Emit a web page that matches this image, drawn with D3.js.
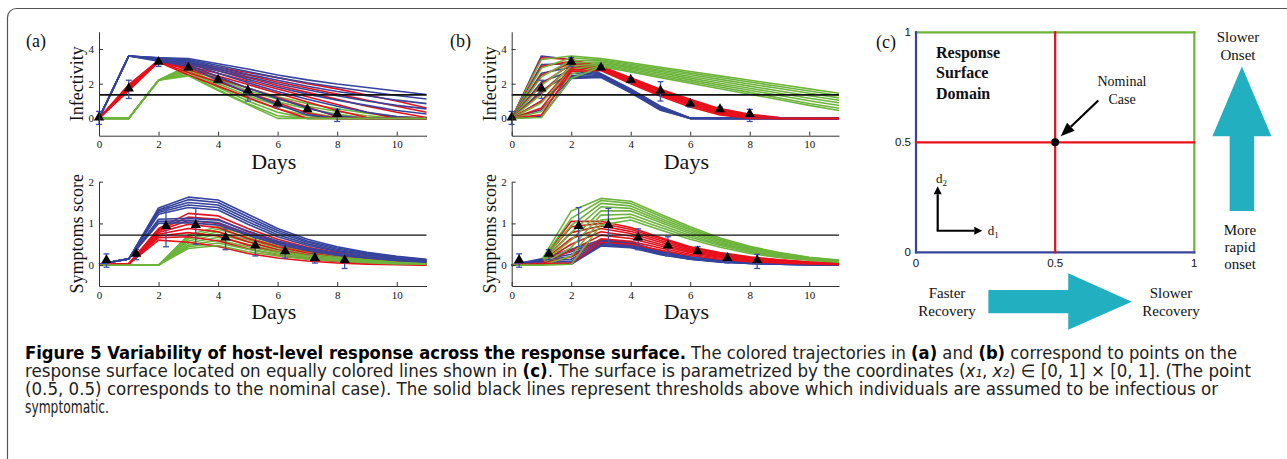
<!DOCTYPE html>
<html>
<head>
<meta charset="utf-8">
<script src="https://cdn.jsdelivr.net/npm/d3@7/dist/d3.min.js"></script>
<style>
  body { margin: 0; background: #fff; }
  svg text { font-family: "Liberation Serif", "Times New Roman", serif; fill: #111; }
  .cap text { font-family: "Liberation Sans Narrow", "DejaVu Sans Condensed", "Open Sans", sans-serif; }
</style>
</head>
<body>
<svg id="fig" width="1287" height="459"></svg>
<script>
// day grid shared by all simulated trajectories
const days = [0, 1, 2, 3, 4, 5, 6, 7, 8, 9, 10, 11];

// ---- (a) infectivity: recovery varies, onset fixed per colour
const aInfBlue = [
  [0, 3.6, 3.5, 3.45, 3.15, 2.85, 2.5, 2.22, 1.98, 1.78, 1.58, 1.38],
  [0, 3.6, 3.5, 3.4, 3.05, 2.7, 2.35, 2.05, 1.8, 1.55, 1.32, 1.12],
  [0, 3.6, 3.48, 3.35, 2.95, 2.55, 2.2, 1.85, 1.55, 1.3, 1.05, 0.85],
  [0, 3.6, 3.45, 3.3, 2.85, 2.4, 2.0, 1.65, 1.3, 1.0, 0.75, 0.55],
  [0, 3.6, 3.42, 3.25, 2.75, 2.25, 1.8, 1.4, 1.05, 0.75, 0.45, 0.25],
  [0, 3.6, 3.4, 3.2, 2.6, 2.05, 1.55, 1.1, 0.7, 0.35, 0.1, 0],
  [0, 3.6, 3.35, 3.1, 2.4, 1.75, 1.15, 0.6, 0.15, 0, 0, 0],
  [0, 3.6, 3.3, 3.0, 2.2, 1.45, 0.8, 0.2, 0, 0, 0, 0]
];
const aInfRed = [
  [0, 1.95, 3.35, 3.2, 2.95, 2.65, 2.35, 2.0, 1.7, 1.35, 1.0, 0.6],
  [0, 1.9, 3.33, 3.15, 2.85, 2.5, 2.1, 1.75, 1.4, 1.05, 0.7, 0.35],
  [0, 1.85, 3.32, 3.1, 2.75, 2.35, 1.9, 1.5, 1.1, 0.7, 0.35, 0.05],
  [0, 1.8, 3.3, 3.0, 2.6, 2.15, 1.7, 1.25, 0.8, 0.35, 0, 0],
  [0, 1.75, 3.3, 2.9, 2.45, 1.95, 1.45, 0.95, 0.45, 0.05, 0, 0],
  [0, 1.7, 3.28, 2.8, 2.3, 1.75, 1.2, 0.65, 0.1, 0, 0, 0],
  [0, 1.65, 3.27, 2.65, 2.1, 1.5, 0.9, 0.3, 0, 0, 0, 0],
  [0, 1.6, 3.25, 2.5, 1.85, 1.2, 0.55, 0, 0, 0, 0, 0]
];
const aInfGreen = [
  [0, 0, 2.2, 3.05, 2.35, 1.75, 1.25, 0.85, 0.55, 0.3, 0.1, 0],
  [0, 0, 2.2, 3.0, 2.25, 1.6, 1.1, 0.7, 0.4, 0.15, 0, 0],
  [0, 0, 2.2, 2.95, 2.15, 1.45, 0.95, 0.55, 0.25, 0, 0, 0],
  [0, 0, 2.2, 2.85, 2.0, 1.3, 0.75, 0.35, 0.05, 0, 0, 0],
  [0, 0, 2.2, 2.75, 1.9, 1.15, 0.55, 0.15, 0, 0, 0, 0],
  [0, 0, 2.2, 2.65, 1.8, 1.0, 0.35, 0, 0, 0, 0, 0],
  [0, 0, 2.2, 2.55, 1.65, 0.85, 0.15, 0, 0, 0, 0, 0],
  [0, 0, 2.2, 2.45, 1.6, 0.8, 0, 0, 0, 0, 0, 0]
];

// ---- (a) symptoms
const aSymBlue = [
  [0.02, 0.15, 1.37, 1.63, 1.56, 1.22, 0.88, 0.62, 0.44, 0.31, 0.21, 0.14],
  [0.02, 0.15, 1.33, 1.57, 1.5, 1.16, 0.83, 0.58, 0.41, 0.29, 0.2, 0.13],
  [0.02, 0.15, 1.3, 1.5, 1.44, 1.1, 0.78, 0.55, 0.38, 0.27, 0.18, 0.12],
  [0.02, 0.15, 1.26, 1.44, 1.38, 1.04, 0.73, 0.51, 0.35, 0.25, 0.17, 0.11],
  [0.02, 0.15, 1.22, 1.38, 1.32, 0.98, 0.68, 0.47, 0.33, 0.23, 0.15, 0.1],
  [0.02, 0.15, 1.1, 1.12, 1.08, 0.82, 0.58, 0.41, 0.28, 0.2, 0.13, 0.09],
  [0.02, 0.15, 1.05, 1.07, 1.02, 0.76, 0.54, 0.38, 0.26, 0.18, 0.12, 0.08],
  [0.02, 0.15, 1.0, 1.02, 0.96, 0.72, 0.5, 0.35, 0.24, 0.17, 0.11, 0.07]
];
const aSymRed = [
  [0, 0.03, 0.88, 1.24, 1.18, 0.88, 0.62, 0.43, 0.3, 0.2, 0.13, 0.09],
  [0, 0.03, 0.85, 1.15, 1.1, 0.8, 0.56, 0.39, 0.26, 0.17, 0.11, 0.07],
  [0, 0.03, 0.82, 1.07, 1.0, 0.72, 0.5, 0.34, 0.22, 0.14, 0.09, 0.05],
  [0, 0.03, 0.78, 0.98, 0.9, 0.64, 0.44, 0.29, 0.18, 0.11, 0.07, 0.04],
  [0, 0.03, 0.74, 0.88, 0.8, 0.56, 0.37, 0.24, 0.14, 0.08, 0.05, 0.02],
  [0, 0.03, 0.7, 0.78, 0.7, 0.48, 0.31, 0.19, 0.11, 0.06, 0.03, 0.01],
  [0, 0.03, 0.66, 0.68, 0.58, 0.39, 0.25, 0.15, 0.08, 0.04, 0.02, 0.01],
  [0, 0.03, 0.6, 0.55, 0.45, 0.28, 0.17, 0.1, 0.05, 0.02, 0.01, 0]
];
const aSymGreen = [
  [0, 0, 0, 0.72, 0.92, 0.72, 0.5, 0.35, 0.24, 0.16, 0.1, 0.07],
  [0, 0, 0, 0.68, 0.86, 0.67, 0.46, 0.32, 0.22, 0.15, 0.09, 0.06],
  [0, 0, 0, 0.63, 0.8, 0.61, 0.42, 0.29, 0.2, 0.13, 0.08, 0.05],
  [0, 0, 0, 0.58, 0.74, 0.56, 0.38, 0.26, 0.18, 0.12, 0.07, 0.05],
  [0, 0, 0, 0.53, 0.67, 0.5, 0.34, 0.23, 0.16, 0.1, 0.06, 0.04],
  [0, 0, 0, 0.48, 0.6, 0.44, 0.3, 0.2, 0.14, 0.09, 0.05, 0.03],
  [0, 0, 0, 0.44, 0.53, 0.38, 0.26, 0.17, 0.12, 0.07, 0.04, 0.03],
  [0, 0, 0, 0.4, 0.47, 0.32, 0.22, 0.14, 0.1, 0.06, 0.03, 0.02]
];

// ---- (b) infectivity: onset varies, recovery fixed per colour
const bInfBlue = [
  [0, 3.6, 3.4, 2.58, 1.7, 0.7, 0.02, 0, 0, 0, 0, 0],
  [0, 3.1, 3.15, 2.55, 1.67, 0.67, 0.01, 0, 0, 0, 0, 0],
  [0, 2.6, 2.95, 2.52, 1.64, 0.64, 0, 0, 0, 0, 0, 0],
  [0, 2.1, 2.75, 2.49, 1.61, 0.61, 0, 0, 0, 0, 0, 0],
  [0, 1.6, 2.6, 2.46, 1.58, 0.58, 0, 0, 0, 0, 0, 0],
  [0, 1.0, 2.45, 2.43, 1.55, 0.55, 0, 0, 0, 0, 0, 0],
  [0, 0.5, 2.35, 2.4, 1.51, 0.51, 0, 0, 0, 0, 0, 0],
  [0, 0.1, 2.3, 2.36, 1.47, 0.47, 0, 0, 0, 0, 0, 0]
];
const bInfRed = [
  [0, 3.5, 3.4, 3.0, 2.35, 1.68, 1.1, 0.56, 0.24, 0.05, 0, 0],
  [0, 3.0, 3.3, 2.97, 2.3, 1.62, 1.04, 0.5, 0.19, 0.03, 0, 0],
  [0, 2.5, 3.2, 2.94, 2.25, 1.57, 0.98, 0.45, 0.15, 0.02, 0, 0],
  [0, 2.0, 3.1, 2.9, 2.2, 1.52, 0.92, 0.4, 0.11, 0, 0, 0],
  [0, 1.5, 3.0, 2.87, 2.15, 1.46, 0.86, 0.35, 0.07, 0, 0, 0],
  [0, 1.0, 2.9, 2.84, 2.1, 1.41, 0.8, 0.3, 0.04, 0, 0, 0],
  [0, 0.6, 2.8, 2.8, 2.05, 1.35, 0.74, 0.25, 0.02, 0, 0, 0],
  [0, 0.2, 2.7, 2.76, 2.0, 1.28, 0.66, 0.2, 0, 0, 0, 0]
];
const bInfGreen = [
  [0, 3.4, 3.6, 3.45, 3.2, 2.95, 2.7, 2.45, 2.2, 1.95, 1.7, 1.45],
  [0, 2.9, 3.5, 3.38, 3.12, 2.87, 2.61, 2.36, 2.1, 1.84, 1.58, 1.32],
  [0, 2.4, 3.35, 3.32, 3.05, 2.78, 2.52, 2.25, 1.98, 1.72, 1.45, 1.18],
  [0, 1.9, 3.2, 3.25, 2.97, 2.7, 2.42, 2.14, 1.86, 1.58, 1.3, 1.05],
  [0, 1.4, 3.0, 3.18, 2.9, 2.61, 2.32, 2.03, 1.74, 1.45, 1.16, 0.9],
  [0, 0.9, 2.8, 3.12, 2.82, 2.52, 2.22, 1.92, 1.62, 1.32, 1.02, 0.74],
  [0, 0.4, 2.55, 3.05, 2.74, 2.43, 2.12, 1.81, 1.5, 1.18, 0.86, 0.58],
  [0, 0.05, 2.3, 2.98, 2.67, 2.35, 2.03, 1.71, 1.39, 1.07, 0.75, 0.45]
];

// ---- (b) symptoms
const bSymBlue = [
  [0, 0.15, 0.38, 0.6, 0.55, 0.33, 0.2, 0.12, 0.07, 0.04, 0.02, 0.01],
  [0, 0.14, 0.32, 0.58, 0.53, 0.32, 0.19, 0.11, 0.06, 0.03, 0.02, 0.01],
  [0, 0.13, 0.26, 0.56, 0.51, 0.31, 0.18, 0.1, 0.06, 0.03, 0.02, 0.01],
  [0, 0.12, 0.2, 0.54, 0.49, 0.3, 0.17, 0.1, 0.05, 0.03, 0.01, 0.01],
  [0, 0.1, 0.14, 0.52, 0.47, 0.28, 0.16, 0.09, 0.05, 0.02, 0.01, 0],
  [0, 0.08, 0.09, 0.5, 0.45, 0.27, 0.15, 0.08, 0.04, 0.02, 0.01, 0],
  [0, 0.05, 0.05, 0.48, 0.44, 0.26, 0.14, 0.08, 0.04, 0.02, 0.01, 0],
  [0, 0.02, 0.02, 0.46, 0.42, 0.25, 0.14, 0.07, 0.04, 0.02, 0.01, 0]
];
const bSymRed = [
  [0, 0.1, 1.05, 1.05, 0.9, 0.66, 0.44, 0.3, 0.2, 0.13, 0.08, 0.05],
  [0, 0.09, 0.92, 1.0, 0.86, 0.63, 0.42, 0.28, 0.18, 0.12, 0.07, 0.04],
  [0, 0.08, 0.78, 0.94, 0.81, 0.59, 0.39, 0.26, 0.17, 0.1, 0.06, 0.04],
  [0, 0.07, 0.64, 0.88, 0.76, 0.55, 0.36, 0.24, 0.15, 0.09, 0.05, 0.03],
  [0, 0.06, 0.5, 0.8, 0.7, 0.5, 0.33, 0.21, 0.13, 0.08, 0.05, 0.03],
  [0, 0.05, 0.35, 0.72, 0.64, 0.46, 0.3, 0.19, 0.12, 0.07, 0.04, 0.02],
  [0, 0.04, 0.2, 0.63, 0.57, 0.41, 0.26, 0.17, 0.1, 0.06, 0.03, 0.02],
  [0, 0.03, 0.05, 0.55, 0.5, 0.36, 0.23, 0.14, 0.08, 0.05, 0.03, 0.01]
];
const bSymGreen = [
  [0, 0.12, 1.3, 1.6, 1.53, 1.22, 0.92, 0.65, 0.45, 0.3, 0.19, 0.12],
  [0, 0.1, 1.12, 1.55, 1.48, 1.17, 0.88, 0.62, 0.42, 0.28, 0.18, 0.11],
  [0, 0.08, 0.95, 1.48, 1.42, 1.12, 0.84, 0.59, 0.4, 0.27, 0.17, 0.1],
  [0, 0.06, 0.78, 1.4, 1.36, 1.07, 0.8, 0.56, 0.38, 0.25, 0.16, 0.1],
  [0, 0.04, 0.6, 1.3, 1.3, 1.02, 0.76, 0.53, 0.36, 0.24, 0.15, 0.09],
  [0, 0.02, 0.42, 1.2, 1.22, 0.96, 0.71, 0.5, 0.33, 0.22, 0.14, 0.08],
  [0, 0, 0.22, 1.08, 1.15, 0.9, 0.67, 0.47, 0.31, 0.2, 0.13, 0.08],
  [0, 0, 0.02, 0.96, 1.08, 0.84, 0.62, 0.43, 0.28, 0.18, 0.12, 0.07]
];

// ---- observed data with error bars
const infObsDays = [0, 1, 2, 3, 4, 5, 6, 7, 8];
const infObs = [0.05, 1.72, 3.26, 2.93, 2.23, 1.6, 0.85, 0.53, 0.25];
const infLo = [-0.35, 1.15, 3.0, 2.8, 2.05, 1.0, 0.65, 0.4, -0.18];
const infHi = [0.4, 2.2, 3.5, 3.05, 2.35, 2.12, 0.95, 0.65, 0.52];
const symObsDays = [0.25, 1.25, 2.25, 3.25, 4.25, 5.25, 6.25, 7.25, 8.25];
const symObs = [0.12, 0.27, 0.94, 0.96, 0.66, 0.47, 0.33, 0.17, 0.12];
const symLo = [-0.05, 0.13, 0.44, 0.5, 0.37, 0.22, 0.17, 0.05, -0.08];
const symHi = [0.27, 0.37, 1.38, 1.36, 0.87, 0.68, 0.44, 0.27, 0.26];

const infThreshold = 1.35;
const symThreshold = 0.72;
const dayTicks = [0, 2, 4, 6, 8, 10];
const infTicks = [0, 2, 4];
const symTicks = [0, 1, 2];

const BLUE = '#36449c', RED = '#e8101b', GREEN = '#6db43c', ERR = '#3e50a8', TEAL = '#22afc0';

const svg = d3.select('#fig');

// outer frame
svg.append('rect')
  .attr('x', 7.5).attr('y', 8.5).attr('width', 1320).attr('height', 500).attr('rx', 9)
  .attr('fill', 'none').attr('stroke', '#555').attr('stroke-width', 1.2);

function interleave(groups) {
  const out = [];
  const n = d3.max(groups, g => g.series.length);
  for (let i = 0; i < n; i++) {
    groups.forEach(g => { if (g.series[i]) out.push({ v: g.series[i], color: g.color }); });
  }
  return out;
}

function drawPlot(cfg) {
  const x = d3.scaleLinear().domain([0, 11]).range([cfg.x0, cfg.x1]);
  const y = d3.scaleLinear().domain(cfg.yDomain).range([cfg.yBot, cfg.yTop]);
  const g = svg.append('g');

  const line = d3.line().x((d, i) => x(days[i])).y(d => y(d));

  g.append('g').selectAll('path')
    .data(interleave(cfg.groups))
    .join('path')
    .attr('d', d => line(d.v))
    .attr('fill', 'none')
    .attr('stroke', d => d.color)
    .attr('stroke-width', 1.6)
    .attr('stroke-linejoin', 'round');

  // threshold
  g.append('line')
    .attr('x1', x(0)).attr('x2', x(11))
    .attr('y1', y(cfg.thr)).attr('y2', y(cfg.thr))
    .attr('stroke', '#111').attr('stroke-width', cfg.thrW);

  // error bars
  const eb = g.append('g').attr('stroke', ERR).attr('stroke-width', 1.3);
  cfg.obsX.forEach((d, i) => {
    eb.append('line').attr('x1', x(d)).attr('x2', x(d)).attr('y1', y(cfg.lo[i])).attr('y2', y(cfg.hi[i]));
    eb.append('line').attr('x1', x(d) - 3).attr('x2', x(d) + 3).attr('y1', y(cfg.lo[i])).attr('y2', y(cfg.lo[i]));
    eb.append('line').attr('x1', x(d) - 3).attr('x2', x(d) + 3).attr('y1', y(cfg.hi[i])).attr('y2', y(cfg.hi[i]));
  });

  g.append('g').selectAll('path')
    .data(cfg.obs)
    .join('path')
    .attr('d', d3.symbol(d3.symbolTriangle, 46))
    .attr('transform', (d, i) => `translate(${x(cfg.obsX[i])},${y(d)})`)
    .attr('fill', '#000');

  // axes, MATLAB style with inward ticks
  const ax = g.append('g')
    .attr('transform', `translate(0,${cfg.yBot})`)
    .call(d3.axisBottom(x).tickValues(dayTicks).tickFormat(d3.format('d'))
      .tickSizeInner(-4).tickSizeOuter(0).tickPadding(5));
  const ay = g.append('g')
    .attr('transform', `translate(${cfg.x0},0)`)
    .call(d3.axisLeft(y).tickValues(cfg.yTicks).tickFormat(d3.format('d'))
      .tickSizeInner(-4).tickSizeOuter(0).tickPadding(5));
  [ax, ay].forEach(a => {
    a.attr('font-family', '"Liberation Serif", serif').attr('font-size', 11);
    a.selectAll('path, line').attr('stroke', '#333');
    a.selectAll('text').attr('fill', '#222');
  });

  g.append('text')
    .attr('transform', `translate(${cfg.x0 - 16},${(cfg.yTop + cfg.yBot) / 2}) rotate(-90)`)
    .attr('text-anchor', 'middle')
    .attr('font-size', 18)
    .text(cfg.ylabel);

  g.append('text')
    .attr('x', (cfg.x0 + cfg.x1) / 2 + 11)
    .attr('y', cfg.yBot + 33)
    .attr('text-anchor', 'middle')
    .attr('font-size', 22)
    .text('Days');
}

const topY = { yTop: 31.7, yBot: 135.7, yDomain: [-1, 5], yTicks: infTicks, thr: infThreshold, thrW: 1.8,
  obsX: infObsDays, obs: infObs, lo: infLo, hi: infHi, ylabel: 'Infectivity' };
const botY = { yTop: 181.7, yBot: 286, yDomain: [-0.5, 2], yTicks: symTicks, thr: symThreshold, thrW: 1.3,
  obsX: symObsDays, obs: symObs, lo: symLo, hi: symHi, ylabel: 'Symptoms score' };
const colA = { x0: 99, x1: 426.5 };
const colB = { x0: 511.7, x1: 839 };

drawPlot({ ...colA, ...topY, groups: [{ series: aInfBlue, color: BLUE }, { series: aInfRed, color: RED }, { series: aInfGreen, color: GREEN }] });
drawPlot({ ...colA, ...botY, groups: [{ series: aSymBlue, color: BLUE }, { series: aSymRed, color: RED }, { series: aSymGreen, color: GREEN }] });
drawPlot({ ...colB, ...topY, groups: [{ series: bInfBlue, color: BLUE }, { series: bInfRed, color: RED }, { series: bInfGreen, color: GREEN }] });
drawPlot({ ...colB, ...botY, groups: [{ series: bSymBlue, color: BLUE }, { series: bSymRed, color: RED }, { series: bSymGreen, color: GREEN }] });

svg.append('text').attr('x', 26).attr('y', 47).attr('font-size', 18).text('(a)');
svg.append('text').attr('x', 450).attr('y', 47).attr('font-size', 18).text('(b)');
svg.append('text').attr('x', 876).attr('y', 48).attr('font-size', 18).text('(c)');

// ---- (c) response surface domain
const cx = d3.scaleLinear().domain([0, 1]).range([916, 1194.3]);
const cy = d3.scaleLinear().domain([0, 1]).range([252.3, 32.3]);
const surfTicks = [0, 0.5, 1];
const nominal = [0.5, 0.5];
const edges = [
  { a: [0, 1], b: [1, 1], color: GREEN },
  { a: [1, 1], b: [1, 0], color: GREEN },
  { a: [0, 0], b: [0, 1], color: BLUE },
  { a: [0, 0], b: [1, 0], color: BLUE },
  { a: [0.5, 0], b: [0.5, 1], color: RED },
  { a: [0, 0.5], b: [1, 0.5], color: RED }
];
const gc = svg.append('g');
gc.selectAll('line.edge').data(edges).join('line')
  .attr('x1', d => cx(d.a[0])).attr('y1', d => cy(d.a[1]))
  .attr('x2', d => cx(d.b[0])).attr('y2', d => cy(d.b[1]))
  .attr('stroke', d => d.color).attr('stroke-width', 2.2).attr('stroke-linecap', 'square');

gc.selectAll('text.ty').data(surfTicks).join('text')
  .attr('x', cx(0) - 5).attr('y', d => cy(d)).attr('dy', '0.35em')
  .attr('text-anchor', 'end').attr('font-size', 11.5)
  .style('font-family', '"Liberation Sans", Arial, sans-serif')
  .text(d => d);
gc.selectAll('text.tx').data(surfTicks).join('text')
  .attr('x', d => cx(d)).attr('y', cy(0) + 15)
  .attr('text-anchor', 'middle').attr('font-size', 11.5)
  .style('font-family', '"Liberation Sans", Arial, sans-serif')
  .text(d => d);

gc.append('circle').attr('cx', cx(nominal[0])).attr('cy', cy(nominal[1])).attr('r', 4).attr('fill', '#000');

function arrow(g, x1, y1, x2, y2, w, headLen, headW) {
  const ang = Math.atan2(y2 - y1, x2 - x1);
  const bx = x2 - headLen * Math.cos(ang), by = y2 - headLen * Math.sin(ang);
  g.append('line').attr('x1', x1).attr('y1', y1).attr('x2', bx).attr('y2', by)
    .attr('stroke', '#000').attr('stroke-width', w);
  const px = -Math.sin(ang) * headW / 2, py = Math.cos(ang) * headW / 2;
  g.append('path').attr('d', `M${x2},${y2}L${bx + px},${by + py}L${bx - px},${by - py}Z`).attr('fill', '#000');
}
// pointer to nominal case
arrow(gc, cx(0.655), cy(0.69), cx(0.52), cy(0.527), 2.2, 14, 11);
// d1 / d2 direction key
arrow(gc, cx(0.078), cy(0.098), cx(0.078), cy(0.3), 2.2, 8, 8);
arrow(gc, cx(0.078) - 1, cy(0.098), cx(0.238), cy(0.098), 2.2, 8, 8);

gc.append('text').attr('x', cx(0.072)).attr('y', 183).attr('font-size', 13)
  .html('d<tspan font-size="9" dy="3">2</tspan>');
gc.append('text').attr('x', cx(0.258)).attr('y', 234.5).attr('font-size', 13)
  .html('d<tspan font-size="9" dy="3">1</tspan>');

const rsd = gc.append('text').attr('font-size', 16).attr('font-weight', 'bold');
['Response', 'Surface', 'Domain'].forEach((t, i) => rsd.append('tspan').attr('x', 936).attr('y', 57.5 + i * 20.5).text(t));
const nc = gc.append('text').attr('font-size', 14).attr('text-anchor', 'middle');
['Nominal', 'Case'].forEach((t, i) => nc.append('tspan').attr('x', 1122).attr('y', 86 + i * 17.5).text(t));

// teal direction arrows
function bigArrow(pts) {
  gc.append('path').attr('d', d3.line()(pts.map(p => [cx(p[0]), cy(p[1])])) + 'Z').attr('fill', TEAL);
}
bigArrow([[1.127, 0.188], [1.127, 0.528], [1.065, 0.528], [1.171, 0.844], [1.277, 0.528], [1.215, 0.528], [1.215, 0.188]]);
bigArrow([[0.26, -0.171], [0.547, -0.171], [0.547, -0.095], [0.775, -0.2245], [0.547, -0.352], [0.547, -0.277], [0.26, -0.277]]);

function label(lines, x, y0, dy) {
  const t = gc.append('text').attr('font-size', 15).attr('text-anchor', 'middle');
  lines.forEach((s, i) => t.append('tspan').attr('x', x).attr('y', y0 + i * dy).text(s));
}
label(['Slower', 'Onset'], 1238, 42, 17.5);
label(['More', 'rapid', 'onset'], 1240, 235, 17);
label(['Faster', 'Recovery'], 947, 298, 17.5);
label(['Slower', 'Recovery'], 1171, 298, 17.5);

// ---- caption
const captionLines = [
  [{ t: 'Figure 5 Variability of host-level response across the response surface.', b: 1 }, { t: ' The colored trajectories in ' }, { t: '(a)', b: 1 }, { t: ' and ' }, { t: '(b)', b: 1 }, { t: ' correspond to points on the' }],
  [{ t: 'response surface located on equally colored lines shown in ' }, { t: '(c)', b: 1 }, { t: '. The surface is parametrized by the coordinates (' }, { t: 'x\u2081', i: 1 }, { t: ', ' }, { t: 'x\u2082', i: 1 }, { t: ') \u2208 [0, 1] \u00d7 [0, 1]. (The point' }],
  [{ t: '(0.5, 0.5) corresponds to the nominal case). The solid black lines represent thresholds above which individuals are assumed to be infectious or' }],
  [{ t: 'symptomatic.' }]
];
const captionWidths = [1212, 1226, 1193, 84];
const capY = [359, 377, 395, 413];

const cap = svg.append('g').attr('class', 'cap');
captionLines.forEach((segs, li) => {
  const t = cap.append('text')
    .attr('x', 25).attr('y', capY[li]).attr('font-size', 17.5)
    .attr('textLength', captionWidths[li]).attr('lengthAdjust', 'spacingAndGlyphs')
    .style('fill', '#222');
  segs.forEach(s => {
    const ts = t.append('tspan').text(s.t);
    if (s.b) ts.attr('font-weight', 'bold').style('fill', '#000');
    if (s.i) ts.attr('font-style', 'italic');
  });
});
</script>
</body>
</html>
